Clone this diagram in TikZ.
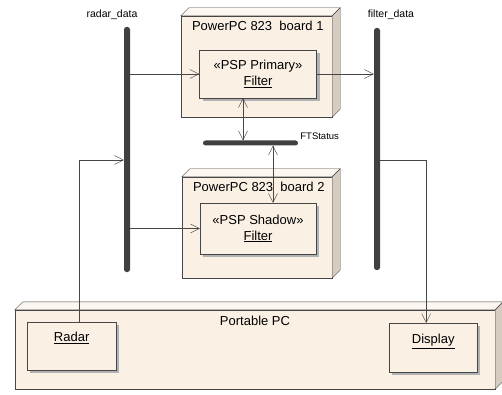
\documentclass[tikz,border=0pt]{standalone}
\usepackage{fontspec}
\setmainfont{Liberation Sans}
\usetikzlibrary{arrows.meta,calc,shadows}

\definecolor{nodefill}{RGB}{250,240,228}
\definecolor{nodeside}{RGB}{214,204,192}
\definecolor{nodetop}{RGB}{252,247,240}
\definecolor{busgray}{RGB}{64,64,64}
\definecolor{linegray}{RGB}{70,70,70}

% top and side face of a 3d node
\newcommand{\boxdepth}[1]{%
  \draw[linegray,fill=nodetop] (#1.north west) -- ++(8,-8) -- ($(#1.north east)+(8,-8)$) -- (#1.north east) -- cycle;
  \draw[linegray,fill=nodeside] (#1.north east) -- ++(8,-8) -- ($(#1.south east)+(8,-8)$) -- (#1.south east) -- cycle;}

\begin{document}
\begin{tikzpicture}[x=1pt,y=-1pt,font=\fontsize{13}{16}\selectfont,
  board/.style={draw=linegray,fill=nodefill,inner sep=0pt},
  part/.style={board,align=center,drop shadow={shadow xshift=3pt,shadow yshift=-3pt,fill=black!30,opacity=1}},
  bus/.style={fill=busgray,inner sep=0pt,rounded corners=2.5pt},
  small/.style={font=\fontsize{10.5}{12}\selectfont,inner sep=0pt},
  flow/.style={color=linegray},
  >={Straight Barb[length=9pt,width=9pt]}]
\useasboundingbox (0,0) rectangle (502,395);

% buses
\node[bus,minimum width=6,minimum height=245] (radar_data) at (127,149.5) {};
\node[bus,minimum width=6,minimum height=242] (filter_data) at (377,149) {};
\node[bus,minimum width=95,minimum height=5] (ftstatus) at (250.5,143) {};
\node[small,anchor=south] (radarlbl) at ([xshift=-15pt,yshift=7pt]radar_data.north) {radar\_data};
\node[small,anchor=south] (filterlbl) at ([xshift=14pt,yshift=8pt]filter_data.north) {filter\_data};
\node[small,font=\fontsize{9.5}{11}\selectfont,anchor=base west] (ftlbl) at ([xshift=2pt,yshift=3pt]ftstatus.east) {FTStatus};

% board 1
\node[board,minimum width=151,minimum height=101] (board1) at (256.5,66.5) {};
\boxdepth{board1}
\node[inner sep=0pt,anchor=north west] (b1name) at ([xshift=11pt,yshift=-5pt]board1.north west) {PowerPC 823\ \ board 1};
\node[part,minimum width=117,minimum height=48] (primary) at (258,74) {«PSP Primary»\\\underline{Filter}};

% board 2
\node[board,minimum width=150,minimum height=101] (board2) at (257,227.5) {};
\boxdepth{board2}
\node[inner sep=0pt,anchor=north west] (b2name) at ([xshift=11pt,yshift=-5pt]board2.north west) {PowerPC 823\ \ board 2};
\node[part,minimum width=116,minimum height=51] (shadow) at (258,228.5) {«PSP Shadow»\\\underline{Filter}};

% portable pc
\node[board,minimum width=480,minimum height=79] (pc) at (255,349.5) {};
\boxdepth{pc}
\node[inner sep=0pt,anchor=north] (pcname) at ([yshift=-6pt]pc.north) {Portable PC};
\node[part,minimum width=89,minimum height=48,anchor=north west] (radar) at (27,322) {};
\node[inner sep=0pt,anchor=north] (radartxt) at ([yshift=-10pt]radar.north) {\underline{Radar}};
\node[part,minimum width=88,minimum height=49,anchor=north west] (display) at (389,323) {};
\node[inner sep=0pt,anchor=north] (displaytxt) at ([yshift=-11pt]display.north) {\underline{Display}};

% connectors
\path[flow,->] (radar_data.east |- primary.west) edge (primary.west);
\path[flow,->] (radar_data.east |- shadow.west) edge (shadow.west);
\path[flow,->] (primary.east) edge (primary.east -| filter_data.west);

\coordinate (p1) at ([xshift=-15pt]primary.south);
\coordinate (s1) at ([xshift=15pt]shadow.north);
\path[flow,<->] (p1) edge (p1 |- ftstatus.north);
\path[flow,<->] (s1 |- ftstatus.south) edge (s1);

\coordinate (row) at (0,160);
\coordinate (rup) at ([xshift=7pt]radar.north);
\coordinate (rbend) at (rup |- row);
\draw[flow,->] (rup) -- (rbend) -- (rbend -| radar_data.west);
\coordinate (dtop) at ([xshift=-7pt]display.north);
\coordinate (dbend) at (dtop |- row);
\draw[flow,->] (dbend -| filter_data.east) -- (dbend) -- (dtop);
\end{tikzpicture}
\end{document}
